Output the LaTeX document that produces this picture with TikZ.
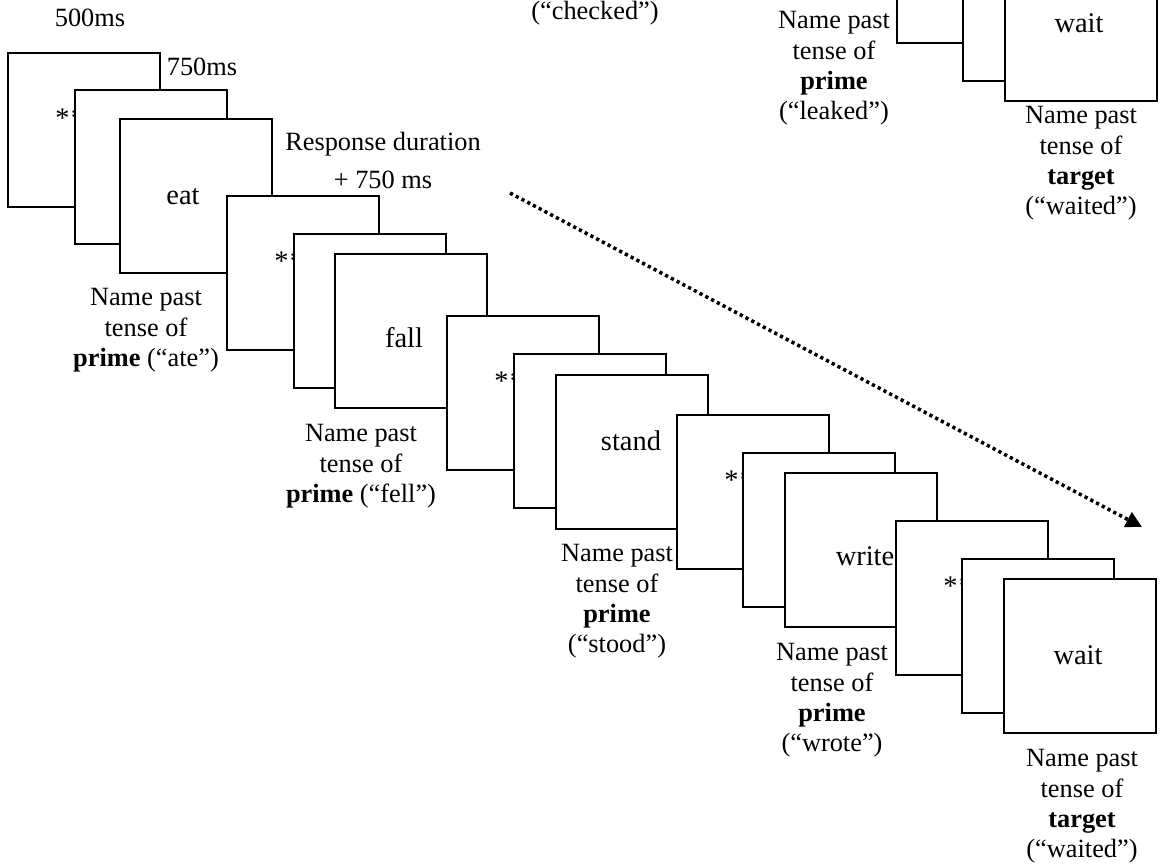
\documentclass[tikz,border=0pt]{standalone}
\usepackage{fontspec}
\setmainfont{Liberation Serif}
\usetikzlibrary{arrows.meta,positioning}
\tikzset{
  screen/.style={draw,fill=white,line width=0.9pt,anchor=north west,
                 minimum width=3.04cm,minimum height=3.08cm,inner sep=0pt},
  word/.style={font=\fontsize{15}{17.3}\selectfont,inner sep=0pt},
  stimword/.style={font=\fontsize{16.2}{18}\selectfont,inner sep=0pt},
  cue/.style={stimword,anchor=base west},
  lbl/.style={word,align=center,anchor=north},
  flow/.style={-{Triangle[length=0.32cm,width=0.32cm]},line width=2pt,
               dash pattern=on 0.065cm off 0.065cm}
}
\begin{document}
\begin{tikzpicture}[x=0.02cm,y=-0.02cm]
  \useasboundingbox (0,0) rectangle (1163,867);
  \clip (0,0) rectangle (1163,867);
  % fixation, blank and stimulus screen of each trial
  \foreach \n/\ax/\ay/\bx/\by/\cx/\cy/\w/\wx/\wy in {
      1/7/52/74/89/119/118/eat/183/197,
      2/226/195/293/233/334/253/fall/404/338,
      3/446/315/513/353/555/374/stand/631/441,
      4/676/414/742/452/784/472/write/865/556,
      5/895/520/961/558/1003/578/wait/1078/655,
      6/896/-112/962/-74/1004/-54/wait/1079/23}
  {
    \node[screen] (fix\n) at (\ax,\ay) {};
    \ifnum\n<6
      \node[cue] (ast\n) at ({\ax+48},{\ay+75}) {*\kern0.7pt**};
    \fi
    \node[screen] (blank\n) at (\bx,\by) {};
    \node[screen] (stim\n) at (\cx,\cy) {};
    \node[stimword] (w\n) at (\wx,\wy) {\w};
  }
  % timing
  \node[word] (t500) at (90,18) {500ms};
  \node[word] (t750) at (202,67) {750ms};
  \node[word] (resp) at (383,144) {Response duration};
  \node[word] (resp2) at (383,180) {+ 750 ms};
  % responses
  \node[word] (checked) at (595,13) {(“checked”)};
  \node[lbl] (lbl1) at (146,288) {Name past\\tense of\\\textbf{prime} (“ate”)};
  \node[lbl] (lbl2) at (361,424) {Name past\\tense of\\\textbf{prime} (“fell”)};
  \node[lbl] (lbl3) at (617,544) {Name past\\tense of\\\textbf{prime}\\(“stood”)};
  \node[lbl] (lbl4) at (832,643) {Name past\\tense of\\\textbf{prime}\\(“wrote”)};
  \node[lbl] (lbl5) at (1082,749) {Name past\\tense of\\\textbf{target}\\(“waited”)};
  \node[lbl] (lbl6) at (834,11) {Name past\\tense of\\\textbf{prime}\\(“leaked”)};
  \node[lbl] (lbl7) at (1081,106) {Name past\\tense of\\\textbf{target}\\(“waited”)};
  % lag
  \coordinate (lagA) at (510,193);
  \coordinate (lagB) at (1142,527);
  \draw[flow] (lagA) -- (lagB);
\end{tikzpicture}
\end{document}
